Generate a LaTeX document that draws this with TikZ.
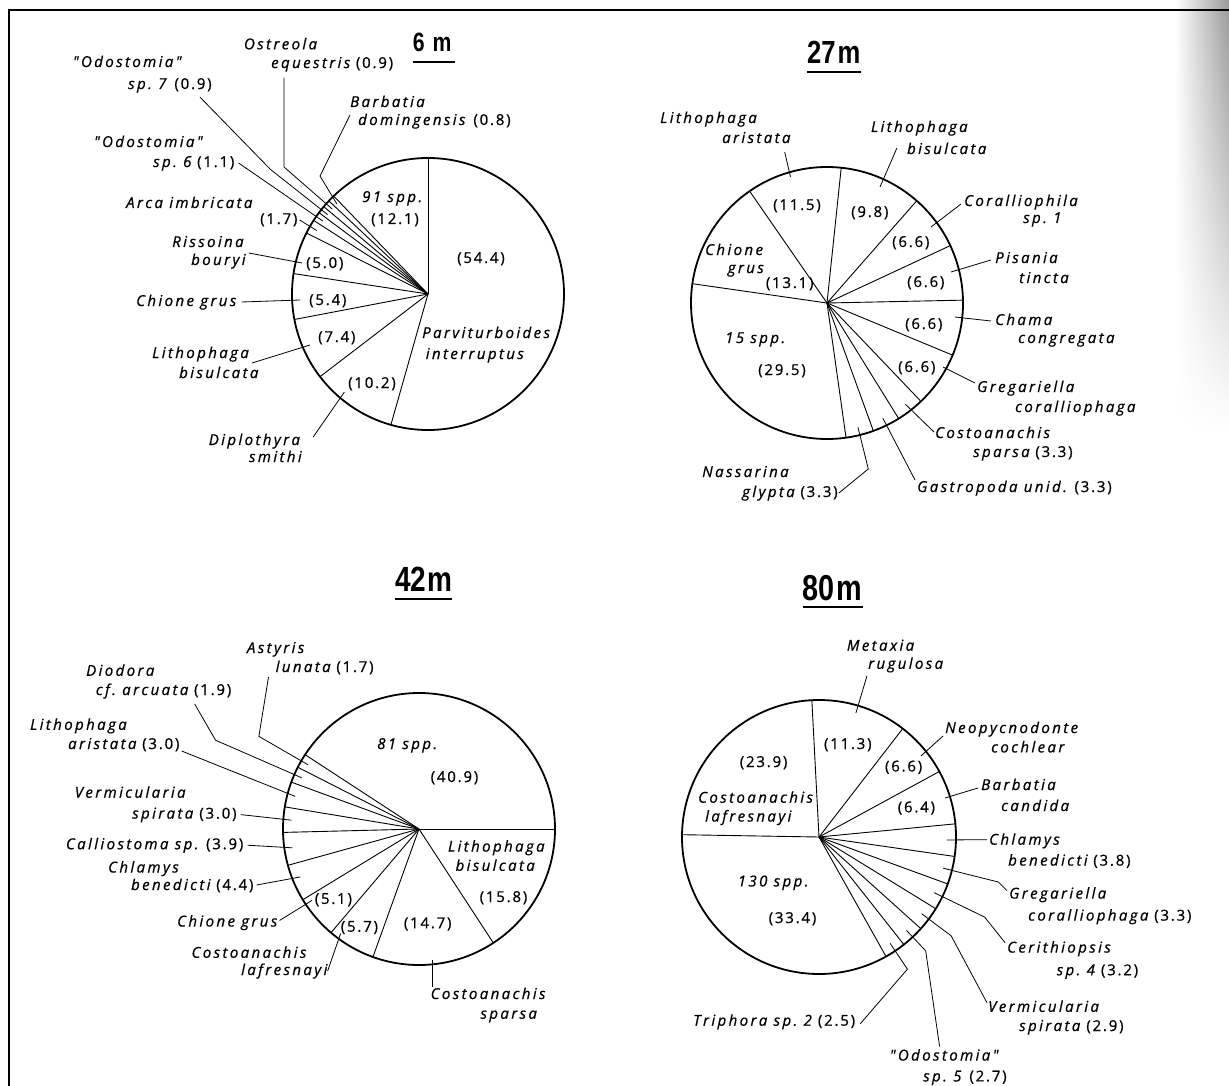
\documentclass[tikz,border=0pt]{standalone}
\usepackage{fontspec}
\usetikzlibrary{fadings}
\newfontfamily\lfup{Open Sans}[LetterSpace=12,FakeBold=0.7]
\newfontfamily\lfit{Open Sans}[LetterSpace=16,FakeBold=0.7]
\newfontfamily\ttlf{Liberation Sans}[FakeStretch=0.8]
\newcommand\nm[1]{{\lfit\itshape #1}}
\tikzset{
  lab/.style={inner sep=0pt, anchor=base west, font=\lfup\fontsize{15}{18}\selectfont},
  ttl/.style={inner sep=0pt, anchor=base west, font=\ttlf\bfseries},
  pie/.style={line width=1.8pt},
  spoke/.style={line width=0.9pt},
  leader/.style={line width=0.8pt},
  uline/.style={line width=2.3pt},
  frame/.style={line width=2pt}
}
\newcommand\polarpt[4]{\path (#1) ++(#2:#3) coordinate (#4);}
\begin{document}
\begin{tikzpicture}[x=1pt,y=-1pt]
\useasboundingbox (0,0) rectangle (1229,1086);
\shade[left color=white, right color=black!40, path fading=south] (1175,0) rectangle (1229,430);
\coordinate (fTL) at (9,10);
\coordinate (fTR) at (1229,10);
\coordinate (fBL) at (9,1086);
\draw[frame] (fTR) -- (fTL) -- (fBL);

% ================= 6 m =================
\coordinate (c6) at (428,294);
\draw[pie] (c6) circle[radius=136pt];
\foreach \a in {-90,105.84,142.56,169.2,188.64,206.64,212.76,216.72,219.96,223.2,226.08}
  \draw[spoke] (c6) -- ++(\a:136);
\node[ttl] (at) at (412.7,51.7) {\fontsize{26.5}{30}\selectfont 6\hspace{8pt}m};
\draw[uline] ([yshift=-10pt]at.base west) -- ([yshift=-10pt,xshift=3pt]at.base east);

\node[lab] (aos1) at (243.8,49.3) {\nm{Ostreola}};
\node[lab] (aos2) at (271,68) {\nm{equestris} (0.9)};
\node[lab] (ao7a) at (72.7,67) {\nm{"Odostomia"}};
\node[lab] (ao7b) at (128,89) {\nm{sp.\ 7}\hspace{8pt}(0.9)};
\node[lab] (aba1) at (350,107) {\nm{Barbatia}};
\node[lab] (aba2) at (358,125) {\nm{domingensis}\hspace{8pt}(0.8)};
\node[lab] (ao6a) at (93.8,147) {\nm{"Odostomia"}};
\node[lab] (ao6b) at (153,167) {\nm{sp.\ 6} (1.1)};
\node[lab] (aar1) at (126,208) {\nm{Arca imbricata}};
\node[lab] (aar2) at (260,224) {(1.7)};
\node[lab] (ari1) at (172,247) {\nm{Rissoina}};
\node[lab] (ari2) at (191,265) {\nm{bouryi}};
\node[lab] (av50) at (306,268) {(5.0)};
\node[lab] (acg) at (136,306) {\nm{Chione grus}};
\node[lab] (av54) at (309,305) {(5.4)};
\node[lab] (av74) at (318,342) {(7.4)};
\node[lab] (alb1) at (152,358) {\nm{Lithophaga}};
\node[lab] (alb2) at (179,378) {\nm{bisulcata}};
\node[lab] (av102) at (348,388) {(10.2)};
\node[lab] (adp1) at (208.6,445) {\nm{Diplothyra}};
\node[lab] (adp2) at (248.8,462) {\nm{smithi}};
\node[lab] (as91) at (362,202) {\nm{91 spp.}};
\node[lab] (av121) at (371,224) {(12.1)};
\node[lab] (av544) at (457,263) {(54.4)};
\node[lab] (apv1) at (422,338) {\nm{Parviturboides}};
\node[lab] (apv2) at (425.6,359) {\nm{interruptus}};

\coordinate (b6os) at (284,167);
\polarpt{c6}{221.58}{128}{e6os}
\polarpt{c6}{218.34}{201}{b6s7}
\polarpt{c6}{218.34}{128}{e6s7}
\coordinate (b6ba) at (320,176);
\polarpt{c6}{224.64}{128}{e6ba}
\polarpt{c6}{214.74}{128}{e6s6}
\polarpt{c6}{209.7}{128}{e6ar}
\coordinate (e6ri) at (302,263);
\coordinate (e6cg) at (300,300);
\coordinate (e6lb) at (310,345);
\coordinate (e6dp) at (344.4,392);
\draw[leader] (aos2.base west) ++(13,10) -- (b6os) -- (e6os);
\draw[leader] (ao7b.base east) ++(-12,8) -- (b6s7) -- (e6s7);
\draw[leader] (aba2.base west) ++(-8,-10) -- (b6ba) -- (e6ba);
\draw[leader] (ao6b.base east) ++(4,-4) -- (e6s6);
\draw[leader] (aar2.base east) ++(2,-4) -- (e6ar);
\draw[leader] (ari1.base east) ++(5,6) -- (e6ri);
\draw[leader] (acg.base east) ++(5,-4) -- (e6cg);
\draw[leader] (alb1.base east) ++(3,5) -- (e6lb);
\draw[leader] (adp1.base east) ++(13,-8) -- (e6dp);

% ================= 27 m =================
\coordinate (c27) at (827,303);
\draw[pie] (c27) circle[radius=136pt];
\foreach \a in {-84,-48.72,-24.96,-1.2,22.56,46.32,58.2,70.08,81.96,188.16,235.32}
  \draw[spoke] (c27) -- ++(\a:136);
\node[ttl] (bt) at (807,63.3) {\fontsize{32}{36}\selectfont 27\hspace{2pt}m};
\draw[uline] ([yshift=-9pt]bt.base west) -- ([yshift=-9pt]bt.base east);

\node[lab] (bla1) at (660,123) {\nm{Lithophaga}};
\node[lab] (bla2) at (722,143) {\nm{aristata}};
\node[lab] (blb1) at (870.8,132) {\nm{Lithophaga}};
\node[lab] (blb2) at (906.9,154) {\nm{bisulcata}};
\node[lab] (bco1) at (964,206) {\nm{Coralliophila}};
\node[lab] (bco2) at (1023,223) {\nm{sp.\ 1}};
\node[lab] (bpi1) at (995,263) {\nm{Pisania}};
\node[lab] (bpi2) at (1019,283) {\nm{tincta}};
\node[lab] (bcm1) at (995,325) {\nm{Chama}};
\node[lab] (bcm2) at (1018,343) {\nm{congregata}};
\node[lab] (bgr1) at (977,392) {\nm{Gregariella}};
\node[lab] (bgr2) at (1015,412) {\nm{coralliophaga}};
\node[lab] (bcs1) at (935,438) {\nm{Costoanachis}};
\node[lab] (bcs2) at (973,457) {\nm{sparsa} (3.3)};
\node[lab] (bga) at (917,492) {\nm{Gastropoda unid.} (3.3)};
\node[lab] (bna1) at (702,477) {\nm{Nassarina}};
\node[lab] (bna2) at (742,497) {\nm{glypta} (3.3)};
\node[lab] (bch1) at (705,255) {\nm{Chione}};
\node[lab] (bch2) at (727.6,273) {\nm{grus}};
\node[lab] (bv131) at (765.7,288) {(13.1)};
\node[lab] (bv115) at (773,210) {(11.5)};
\node[lab] (bv98) at (851,217) {(9.8)};
\node[lab] (bv66a) at (892,247) {(6.6)};
\node[lab] (bv66b) at (907,287) {(6.6)};
\node[lab] (bv66c) at (905,329) {(6.6)};
\node[lab] (bv66d) at (898,372) {(6.6)};
\node[lab] (bs15) at (725,343) {\nm{15 spp.}};
\node[lab] (bv295) at (758,375) {(29.5)};

\coordinate (e27la) at (790.5,177);
\coordinate (e27lb) at (880,187);
\coordinate (e27co) at (931,227);
\coordinate (e27pi) at (951,272);
\coordinate (e27cm) at (955,317);
\coordinate (e27gr) at (943,367);
\polarpt{c27}{52.26}{128}{e27cs}
\polarpt{c27}{64.14}{128}{e27ga}
\polarpt{c27}{76.02}{171}{b27na}
\polarpt{c27}{76.02}{128}{e27na}
\draw[leader] (bla2.base east) ++(-6,9) -- (e27la);
\draw[leader] (blb2.base west) ++(-10,-6) -- (e27lb);
\draw[leader] (bco1.base west) ++(-3,-2) -- (e27co);
\draw[leader] (bpi1.base west) ++(-4,-3) -- (e27pi);
\draw[leader] (bcm1.base west) ++(-4,-4) -- (e27cm);
\draw[leader] (bgr1.base west) ++(-2,-9) -- (e27gr);
\draw[leader] (bcs1.base west) ++(-1,-6) -- (e27cs);
\draw[leader] (bga.base west) ++(-2,-12) -- (e27ga);
\draw[leader] (bna2.base east) ++(1,-4) -- (b27na) -- (e27na);

% ================= 42 m =================
\coordinate (c42) at (419,829);
\draw[pie] (c42) circle[radius=136pt];
\foreach \a in {0,56.88,109.8,130.32,148.68,164.52,178.56,189.36,200.16,207.0,213.12}
  \draw[spoke] (c42) -- ++(\a:136);
\node[ttl] (ct) at (395,591.7) {\fontsize{35}{40}\selectfont 42\hspace{1pt}m};
\draw[uline] ([yshift=-7pt]ct.base west) -- ([yshift=-7pt]ct.base east);

\node[lab] (cas1) at (246.8,653) {\nm{Astyris}};
\node[lab] (cas2) at (275.5,672) {\nm{lunata} (1.7)};
\node[lab] (cdd1) at (86,675.8) {\nm{Diodora}};
\node[lab] (cdd2) at (95.7,695) {\nm{cf.\ arcuata} (1.9)};
\node[lab] (car1) at (29.9,729.8) {\nm{Lithophaga}};
\node[lab] (car2) at (68,749) {\nm{aristata} (3.0)};
\node[lab] (cvm1) at (74.6,797.7) {\nm{Vermicularia}};
\node[lab] (cvm2) at (132,818.6) {\nm{spirata}\hspace{6pt}(3.0)};
\node[lab] (ccal) at (65.8,849.2) {\nm{Calliostoma sp.} (3.9)};
\node[lab] (ccl1) at (108,872.5) {\nm{Chlamys}};
\node[lab] (ccl2) at (130.9,890) {\nm{benedicti} (4.4)};
\node[lab] (ccg) at (177,926.5) {\nm{Chione grus}};
\node[lab] (cv51) at (314.6,903.9) {(5.1)};
\node[lab] (clf1) at (191.4,957.8) {\nm{Costoanachis}};
\node[lab] (clf2) at (241,975) {\nm{lafresnayi}};
\node[lab] (cv57) at (340.6,931.7) {(5.7)};
\node[lab] (cv147) at (403.7,928.2) {(14.7)};
\node[lab] (csp1) at (430.5,999) {\nm{Costoanachis}};
\node[lab] (csp2) at (480.3,1018.7) {\nm{sparsa}};
\node[lab] (cs81) at (377,749) {\nm{81 spp.}};
\node[lab] (cv409) at (430.5,782) {(40.9)};
\node[lab] (clb1) at (447.8,851.6) {\nm{Lithophaga}};
\node[lab] (clb2) at (455.4,870.8) {\nm{bisulcata}};
\node[lab] (cv158) at (479.5,902) {(15.8)};

\polarpt{c42}{210.06}{185}{b42as}
\polarpt{c42}{210.06}{128}{e42as}
\polarpt{c42}{203.58}{222}{b42dd}
\polarpt{c42}{203.58}{128}{e42dd}
\polarpt{c42}{194.76}{128}{e42ar}
\polarpt{c42}{183.96}{128}{e42vm}
\polarpt{c42}{171.54}{128}{e42cal}
\polarpt{c42}{158}{128}{e42cl}
\coordinate (e42cg) at (312,900.4);
\coordinate (e42lf) at (340.6,933.5);
\coordinate (e42sp) at (432.5,959.6);
\draw[leader] (cas2.base west) ++(-7,5) -- (b42as) -- (e42as);
\draw[leader] (cdd2.base west) ++(99,9) -- (b42dd) -- (e42dd);
\draw[leader] (car2.base east) ++(2,2) -- (e42ar);
\draw[leader] (cvm2.base east) ++(4,-4) -- (e42vm);
\draw[leader] (ccal.base east) ++(4,-4) -- (e42cal);
\draw[leader] (ccl2.base east) ++(3,-5) -- (e42cl);
\draw[leader] (ccg.base east) ++(2,-6) -- (e42cg);
\draw[leader] (clf2.base east) ++(0,-4) -- (e42lf);
\draw[leader] (csp1.base west) ++(2,-12) -- (e42sp);

% ================= 80 m =================
\coordinate (c80) at (819,837);
\draw[pie] (c80) circle[radius=137pt];
\foreach \a in {-93,-52.32,-28.56,-5.52,8.16,20.04,31.56,42,51.72,60.72,180.96}
  \draw[spoke] (c80) -- ++(\a:137);
\node[ttl] (dt) at (802.7,600) {\fontsize{36}{40}\selectfont 80\hspace{2pt}m};
\draw[uline] ([yshift=-7pt]dt.base west) -- ([yshift=-7pt]dt.base east);

\node[lab] (dmx1) at (846.7,650.7) {\nm{Metaxia}};
\node[lab] (dmx2) at (868,668.8) {\nm{rugulosa}};
\node[lab] (dv239) at (739.6,767) {(23.9)};
\node[lab] (dv113) at (823.8,749) {(11.3)};
\node[lab] (dne1) at (945,733) {\nm{Neopycnodonte}};
\node[lab] (dne2) at (991,752.4) {\nm{cochlear}};
\node[lab] (dv66) at (884.8,771.5) {(6.6)};
\node[lab] (dbb1) at (981,790) {\nm{Barbatia}};
\node[lab] (dbb2) at (1001,811) {\nm{candida}};
\node[lab] (dv64) at (897.6,812.3) {(6.4)};
\node[lab] (dcl1) at (698,802.7) {\nm{Costoanachis}};
\node[lab] (dcl2) at (705,821.5) {\nm{lafresnayi}};
\node[lab] (dcy1) at (989,844.7) {\nm{Chlamys}};
\node[lab] (dcy2) at (1008,865.6) {\nm{benedicti} (3.8)};
\node[lab] (dge1) at (1009,898.6) {\nm{Gregariella}};
\node[lab] (dge2) at (1028,920.6) {\nm{coralliophaga} (3.3)};
\node[lab] (dce1) at (1007,952.6) {\nm{Cerithiopsis}};
\node[lab] (dce2) at (1056.5,975.2) {\nm{sp.\ 4}\hspace{6pt}(3.2)};
\node[lab] (dve1) at (988,1011.8) {\nm{Vermicularia}};
\node[lab] (dve2) at (1019,1031) {\nm{spirata}\hspace{6pt}(2.9)};
\node[lab] (dod1) at (889.6,1060.5) {\nm{"Odostomia"}};
\node[lab] (dod2) at (923,1081.4) {\nm{sp.\ 5}\hspace{8pt}(2.7)};
\node[lab] (dtr) at (693,1025.7) {\nm{Triphora sp.\ 2}\hspace{6pt}(2.5)};
\node[lab] (ds130) at (737.6,886.4) {\nm{130 spp.}};
\node[lab] (dv334) at (768.5,923) {(33.4)};

\coordinate (e80mx) at (855.9,713);
\coordinate (e80ne) at (921,755.9);
\coordinate (e80bb) at (945,798);
\polarpt{c80}{1.32}{128}{e80cy}
\polarpt{c80}{14.1}{185}{b80ge}
\polarpt{c80}{14.1}{128}{e80ge}
\polarpt{c80}{25.8}{184}{b80ce}
\polarpt{c80}{25.8}{128}{e80ce}
\polarpt{c80}{36.78}{165}{b80ve}
\polarpt{c80}{36.78}{128}{e80ve}
\polarpt{c80}{46.86}{156}{b80od}
\polarpt{c80}{46.86}{128}{e80od}
\polarpt{c80}{56.22}{159}{b80tr}
\polarpt{c80}{56.22}{128}{e80tr}
\draw[leader] (dmx2.base west) ++(-1,7) -- (e80mx);
\draw[leader] (dne1.base west) ++(-2,3) -- (e80ne);
\draw[leader] (dbb1.base west) ++(-3,-2) -- (e80bb);
\draw[leader] (dcy1.base west) ++(-2,-5) -- (e80cy);
\draw[leader] (dge1.base west) ++(-2,-8) -- (b80ge) -- (e80ge);
\draw[leader] (dce1.base west) ++(-2,-10) -- (b80ce) -- (e80ce);
\draw[leader] (dve1.base west) ++(-1,-9) -- (b80ve) -- (e80ve);
\draw[leader] (dod1.base west) ++(50,-14) -- (b80od) -- (e80od);
\draw[leader] (dtr.base east) ++(5,-2) -- (b80tr) -- (e80tr);
\end{tikzpicture}
\end{document}
